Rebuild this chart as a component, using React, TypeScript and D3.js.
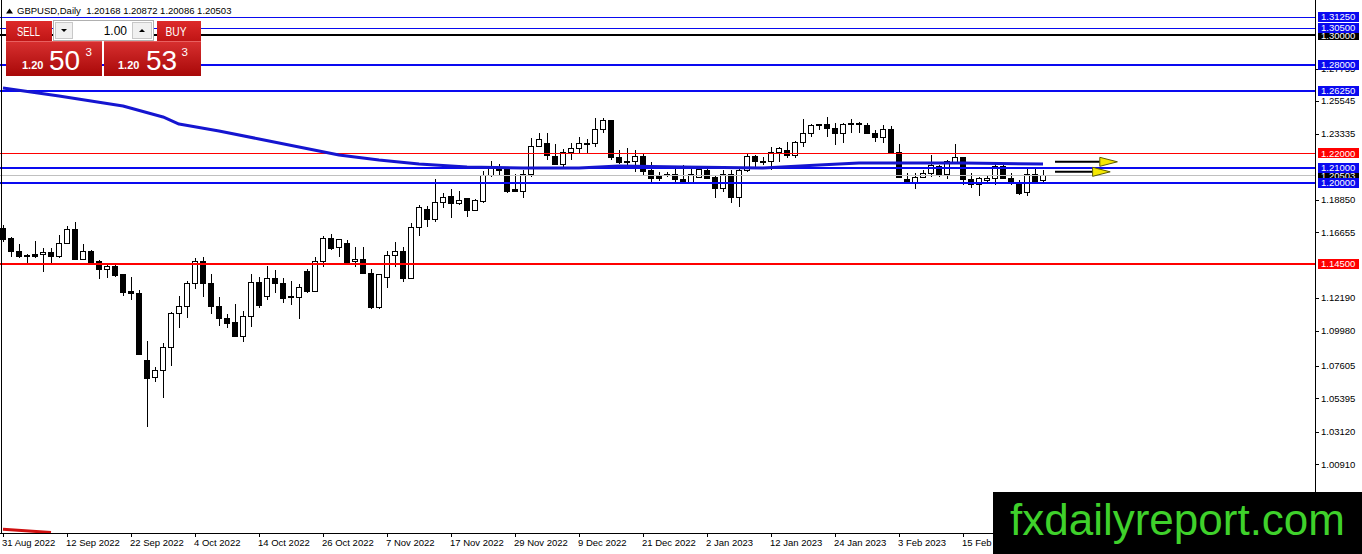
import React from "react";
import * as d3 from "d3";

// GBPUSD daily
const dateLabels = [
  "31 Aug 2022", "12 Sep 2022", "22 Sep 2022", "4 Oct 2022", "14 Oct 2022", "26 Oct 2022",
  "7 Nov 2022", "17 Nov 2022", "29 Nov 2022", "9 Dec 2022", "21 Dec 2022", "2 Jan 2023",
  "12 Jan 2023", "24 Jan 2023", "3 Feb 2023", "15 Feb 2023",
];
const barsPerLabel = 8;

const opens = [
  1.1694, 1.1620, 1.1538, 1.1511, 1.1518, 1.1518, 1.1531, 1.1498, 1.1592, 1.1681,
  1.1484, 1.1538, 1.1464, 1.1416, 1.1430, 1.1376, 1.1267, 1.1253, 1.0799, 1.0684,
  1.0725, 1.0881, 1.1118, 1.1159, 1.1321, 1.1464, 1.1321, 1.1159, 1.1084, 1.1057,
  1.0962, 1.1091, 1.1328, 1.1233, 1.1355, 1.1321, 1.1220, 1.1226, 1.1396, 1.1267,
  1.1470, 1.1626, 1.1559, 1.1592, 1.1464, 1.1484, 1.1389, 1.1152, 1.1362, 1.1511,
  1.1538, 1.1355, 1.1701, 1.1823, 1.1755, 1.1864, 1.1911, 1.1857, 1.1891, 1.1816,
  1.1877, 1.2047, 1.2094, 1.2101, 1.1952, 1.1945, 1.2054, 1.2250, 1.2270, 1.2182,
  1.2128, 1.2203, 1.2230, 1.2257, 1.2264, 1.2359, 1.2420, 1.2169, 1.2148, 1.2142,
  1.2176, 1.2081, 1.2047, 1.2047, 1.2060, 1.2026, 1.2006, 1.2040, 1.2087, 1.2040,
  1.1959, 1.2054, 1.1904, 1.2081, 1.2176, 1.2148, 1.2142, 1.2203, 1.2223, 1.2189,
  1.2277, 1.2332, 1.2386, 1.2399, 1.2372, 1.2332, 1.2406, 1.2406, 1.2386, 1.2338,
  1.2311, 1.2359, 1.2209, 1.2026, 1.2006, 1.2040, 1.2067, 1.2108, 1.2054, 1.2135,
  1.2169, 1.2026, 1.1986, 1.2013, 1.2033, 1.2108, 1.2033, 1.1999, 1.1938, 1.2060,
  1.20168,
];
const highs = [
  1.1715, 1.1633, 1.1586, 1.1518, 1.1606, 1.1559, 1.1559, 1.1647, 1.1708, 1.1735,
  1.1586, 1.1545, 1.1477, 1.1443, 1.1443, 1.1382, 1.1362, 1.1274, 1.0928, 1.0752,
  1.0915, 1.1125, 1.1233, 1.1335, 1.1491, 1.1498, 1.1382, 1.1226, 1.1111, 1.1179,
  1.1131, 1.1382, 1.1362, 1.1437, 1.1409, 1.1355, 1.1335, 1.1315, 1.1416, 1.1498,
  1.1640, 1.1653, 1.1620, 1.1613, 1.1565, 1.1565, 1.1416, 1.1382, 1.1538, 1.1599,
  1.1565, 1.1728, 1.1850, 1.1843, 1.2026, 1.1931, 1.1959, 1.1945, 1.1898, 1.1891,
  1.2081, 1.2148, 1.2128, 1.2108, 1.2060, 1.2087, 1.2304, 1.2338, 1.2338, 1.2264,
  1.2230, 1.2270, 1.2311, 1.2298, 1.2440, 1.2440, 1.2426, 1.2223, 1.2237, 1.2223,
  1.2203, 1.2142, 1.2074, 1.2074, 1.2094, 1.2121, 1.2094, 1.2108, 1.2108, 1.2054,
  1.2087, 1.2087, 1.2101, 1.2203, 1.2189, 1.2176, 1.2243, 1.2243, 1.2277, 1.2284,
  1.2433, 1.2399, 1.2399, 1.2447, 1.2406, 1.2406, 1.2433, 1.2413, 1.2406, 1.2359,
  1.2393, 1.2386, 1.2264, 1.2067, 1.2067, 1.2087, 1.2189, 1.2121, 1.2155, 1.2264,
  1.2176, 1.2067, 1.2040, 1.2054, 1.2142, 1.2121, 1.2067, 1.2020, 1.2108, 1.2094,
  1.20872,
];
const lows = [
  1.1599, 1.1498, 1.1491, 1.1443, 1.1491, 1.1396, 1.1457, 1.1491, 1.1586, 1.1477,
  1.1477, 1.1450, 1.1348, 1.1355, 1.1362, 1.1233, 1.1206, 1.0833, 1.0345, 1.0650,
  1.0542, 1.0759, 1.1016, 1.1084, 1.1281, 1.1226, 1.1111, 1.1030, 1.1016, 1.0955,
  1.0921, 1.1023, 1.1152, 1.1206, 1.1253, 1.1186, 1.1172, 1.1077, 1.1253, 1.1260,
  1.1430, 1.1545, 1.1498, 1.1450, 1.1430, 1.1382, 1.1145, 1.1145, 1.1287, 1.1430,
  1.1328, 1.1348, 1.1640, 1.1701, 1.1735, 1.1830, 1.1762, 1.1850, 1.1769, 1.1809,
  1.1864, 1.2040, 1.2054, 1.1931, 1.1938, 1.1898, 1.2040, 1.2243, 1.2155, 1.2121,
  1.2108, 1.2155, 1.2203, 1.2203, 1.2243, 1.2338, 1.2155, 1.2128, 1.2121, 1.2074,
  1.2054, 1.1992, 1.2013, 1.2040, 1.2006, 1.1999, 1.1999, 1.2033, 1.2026, 1.1898,
  1.1938, 1.1864, 1.1837, 1.2074, 1.2108, 1.2121, 1.2087, 1.2142, 1.2169, 1.2169,
  1.2243, 1.2311, 1.2359, 1.2311, 1.2257, 1.2270, 1.2338, 1.2338, 1.2332, 1.2277,
  1.2270, 1.2203, 1.2033, 1.1999, 1.1959, 1.2033, 1.2040, 1.2040, 1.2026, 1.2128,
  1.1986, 1.1965, 1.1911, 1.1999, 1.1986, 1.2026, 1.1986, 1.1918, 1.1911, 1.1999,
  1.20086,
];
const closes = [
  1.1613, 1.1538, 1.1498, 1.1498, 1.1498, 1.1531, 1.1498, 1.1586, 1.1681, 1.1484,
  1.1538, 1.1457, 1.1416, 1.1430, 1.1369, 1.1260, 1.1247, 1.0840, 1.0677, 1.0731,
  1.0887, 1.1118, 1.1165, 1.1321, 1.1464, 1.1321, 1.1159, 1.1084, 1.1050, 1.0962,
  1.1091, 1.1328, 1.1172, 1.1355, 1.1321, 1.1213, 1.1233, 1.1294, 1.1267, 1.1470,
  1.1626, 1.1552, 1.1613, 1.1457, 1.1484, 1.1389, 1.1152, 1.1376, 1.1511, 1.1538,
  1.1355, 1.1701, 1.1830, 1.1755, 1.1864, 1.1904, 1.1857, 1.1884, 1.1816, 1.1884,
  1.2047, 1.2101, 1.2081, 1.1945, 1.1945, 1.2054, 1.2250, 1.2291, 1.2189, 1.2128,
  1.2203, 1.2230, 1.2264, 1.2270, 1.2359, 1.2420, 1.2169, 1.2135, 1.2142, 1.2176,
  1.2074, 1.2033, 1.2033, 1.2060, 1.2020, 1.2006, 1.2054, 1.2094, 1.2033, 1.1959,
  1.2054, 1.1904, 1.2087, 1.2176, 1.2142, 1.2142, 1.2203, 1.2230, 1.2189, 1.2277,
  1.2338, 1.2386, 1.2393, 1.2372, 1.2332, 1.2399, 1.2399, 1.2393, 1.2338, 1.2311,
  1.2359, 1.2209, 1.2040, 1.2006, 1.2040, 1.2067, 1.2115, 1.2047, 1.2142, 1.2169,
  1.2026, 1.1992, 1.2033, 1.2033, 1.2108, 1.2033, 1.1999, 1.1931, 1.2060, 1.2006,
  1.20503,
];

// moving average, [bar index, price]
const maPoints: [number, number][] = [
  [0, 1.2643], [7, 1.2589], [15, 1.2521], [20, 1.2447], [22, 1.2399], [27, 1.2352],
  [32, 1.2298], [37, 1.2243], [42, 1.2189], [47, 1.2155], [52, 1.2128], [58, 1.2108],
  [65, 1.2101], [72, 1.2101], [77, 1.2115], [85, 1.2108], [95, 1.2101], [102, 1.2121],
  [107, 1.2135], [120, 1.2135], [130, 1.2128],
];
// second average, only its tail shows at the very bottom left
const lowMaPoints: [number, number][] = [[0, 0.9652], [6, 0.9630]];

const blueLevels = [1.3125, 1.305, 1.28, 1.2625, 1.21, 1.2];
const redLevels = [1.22, 1.145];
const blackLevels = [1.3];
const bidPrice = 1.20503;
const priceTicks = [
  1.27755, 1.25545, 1.23335, 1.1885, 1.16655, 1.1219, 1.0998, 1.07605, 1.05395, 1.0312, 1.0091,
];

// arrows drawn on the chart: start bar, shaft end bar, tip bar, price
const arrowStarts = [131.5, 131.5];
const arrowShaftEnds = [137.1, 136.2];
const arrowTips = [139.3, 138.4];
const arrowPrices = [1.2143, 1.2075];

const headerText = "GBPUSD,Daily  1.20168 1.20872 1.20086 1.20503";

const W = 1362;
const H = 554;
const plotRight = 1315;
const plotBottom = 533;
const BLUE = "#0a0af0";
const RED = "#ff0000";

const thinLevels = new Set([1.3125, 1.305, 1.22]);

function fmt(p: number) {
  return p.toFixed(5);
}

export default function App() {
  const x = d3.scaleLinear().domain([0, 164]).range([3, plotRight]);
  const y = d3.scaleLinear().domain([0.9613, 1.324]).range([535, 0]);

  const line = d3
    .line<[number, number]>()
    .x((d) => x(d[0]))
    .y((d) => y(d[1]));

  // pixel-snapped y for level lines
  const ly = (p: number, w: number) => (w === 1 ? Math.round(y(p)) + 0.5 : Math.round(y(p)));

  const candles = opens.map((o, i) => ({
    i,
    o,
    h: highs[i],
    l: lows[i],
    c: closes[i],
  }));

  const axisFont = "'Liberation Sans', Arial, sans-serif";

  // right axis boxes, drawn in this order so overlaps match
  const boxed: { p: number; bg: string }[] = [
    { p: 1.3, bg: "#000" },
    { p: 1.3125, bg: BLUE },
    { p: 1.305, bg: BLUE },
    { p: 1.28, bg: BLUE },
    { p: 1.2625, bg: BLUE },
    { p: 1.22, bg: "#f00" },
    { p: bidPrice, bg: "#000" },
    { p: 1.21, bg: BLUE },
    { p: 1.2, bg: BLUE },
    { p: 1.145, bg: "#f00" },
  ];

  return (
    <div style={{ position: "fixed", left: 0, top: 0, width: W, height: H, background: "#fff" }}>
      <svg width={W} height={H} style={{ display: "block" }} fontFamily={axisFont}>
        <defs>
          <clipPath id="plot">
            <rect x={0} y={0} width={plotRight} height={plotBottom} />
          </clipPath>
          <linearGradient id="bigRed" x1="0" y1="0" x2="0" y2="1">
            <stop offset="0" stopColor="#d83030" />
            <stop offset="1" stopColor="#a80808" />
          </linearGradient>
          <linearGradient id="btnRed" x1="0" y1="0" x2="0" y2="1">
            <stop offset="0" stopColor="#de2a2a" />
            <stop offset="1" stopColor="#c01515" />
          </linearGradient>
        </defs>

        <rect width={W} height={H} fill="#fff" />

        <g clipPath="url(#plot)">
          {/* candles */}
          <g shapeRendering="crispEdges">
            {candles.map((d) => {
              const cx = Math.round(x(d.i));
              const top = y(Math.max(d.o, d.c));
              const bot = y(Math.min(d.o, d.c));
              const bull = d.c > d.o;
              return (
                <g key={d.i}>
                  <line x1={cx} x2={cx} y1={y(d.h)} y2={y(d.l)} stroke="#000" strokeWidth={1} />
                  <rect
                    x={cx - 2.5}
                    y={top}
                    width={5}
                    height={Math.max(1, bot - top)}
                    fill={bull ? "#fff" : "#000"}
                    stroke="#000"
                    strokeWidth={1}
                  />
                </g>
              );
            })}
          </g>

          {/* horizontal levels */}
          <g>
            <line x1={0} x2={plotRight} y1={ly(bidPrice, 1)} y2={ly(bidPrice, 1)} stroke="#c0c0c0" strokeWidth={1} />
            {blueLevels.map((p) => {
              const w = thinLevels.has(p) ? 1 : 2;
              return <line key={"b" + p} x1={0} x2={plotRight} y1={ly(p, w)} y2={ly(p, w)} stroke={BLUE} strokeWidth={w} />;
            })}
            {blackLevels.map((p) => (
              <line key={"k" + p} x1={0} x2={plotRight} y1={ly(p, 2)} y2={ly(p, 2)} stroke="#000" strokeWidth={2} />
            ))}
            {redLevels.map((p) => {
              const w = thinLevels.has(p) ? 1 : 2;
              return <line key={"r" + p} x1={0} x2={plotRight} y1={ly(p, w)} y2={ly(p, w)} stroke={RED} strokeWidth={w} />;
            })}
          </g>

          {/* moving averages */}
          <path d={line(maPoints) ?? ""} fill="none" stroke="#1515d0" strokeWidth={3} strokeLinejoin="round" />
          <path d={line(lowMaPoints) ?? ""} fill="none" stroke="#d01010" strokeWidth={3} />

          {/* arrows */}
          {arrowPrices.map((p, k) => {
            const yy = y(p);
            const x0 = x(arrowStarts[k]);
            const x1 = x(arrowShaftEnds[k]);
            const x2 = x(arrowTips[k]);
            return (
              <g key={"a" + k}>
                <line x1={x0} x2={x1} y1={yy} y2={yy} stroke="#000" strokeWidth={2} />
                <path
                  d={`M${x1},${yy - 4.5}L${x2},${yy}L${x1},${yy + 4.5}Z`}
                  fill="#f5e800"
                  stroke="#5a5a00"
                  strokeWidth={1}
                />
              </g>
            );
          })}
        </g>

        {/* frame */}
        <g shapeRendering="crispEdges" stroke="#000" strokeWidth={1}>
          <line x1={1.5} x2={1.5} y1={0} y2={plotBottom} />
          <line x1={0} x2={plotRight + 1} y1={plotBottom + 0.5} y2={plotBottom + 0.5} />
          <line x1={plotRight + 0.5} x2={plotRight + 0.5} y1={0} y2={plotBottom} />
        </g>

        {/* bottom axis */}
        <g>
          {dateLabels.map((t, k) => {
            const tx = Math.round(x(k * barsPerLabel));
            return (
              <g key={t}>
                <line x1={tx + 0.5} x2={tx + 0.5} y1={plotBottom} y2={plotBottom + 4} stroke="#000" shapeRendering="crispEdges" />
                <text x={tx - 1} y={546} fontSize={9.5} fill="#000">
                  {t}
                </text>
              </g>
            );
          })}
        </g>

        {/* right axis */}
        <g>
          {priceTicks.map((p) => (
            <g key={"t" + p}>
              <line x1={plotRight} x2={plotRight + 4} y1={Math.round(y(p)) + 0.5} y2={Math.round(y(p)) + 0.5} stroke="#000" shapeRendering="crispEdges" />
              <text x={1321} y={y(p)} dy="0.35em" fontSize={9.5} fill="#000">
                {fmt(p)}
              </text>
            </g>
          ))}
          {boxed.map((b) => (
            <g key={"box" + b.p}>
              <rect x={1318} y={y(b.p) - 5} width={41} height={10} fill={b.bg} shapeRendering="crispEdges" />
              <text x={1321} y={y(b.p)} dy="0.35em" fontSize={9.5} fill="#fff">
                {fmt(b.p)}
              </text>
            </g>
          ))}
        </g>

        {/* header */}
        <path d="M6,13.5L9.5,8.5L13,13.5Z" fill="#000" />
        <text x={17} y={14} fontSize={9.5} fill="#000" style={{ whiteSpace: "pre" }}>
          {headerText}
        </text>

        {/* one click trading panel */}
        <g>
          <rect x={6} y={21} width={46} height={20} fill="url(#btnRed)" />
          <text x={28.5} y={35.5} fontSize={12.5} fill="#fff" textAnchor="middle" textLength={23} lengthAdjust="spacingAndGlyphs">
            SELL
          </text>
          <rect x={53.5} y={20.5} width={100} height={20} fill="#fff" stroke="#b0b0b0" />
          <rect x={55.5} y={22.5} width={17} height={16} fill="#f0f0f0" stroke="#c8c8c8" />
          <path d="M61,29L67,29L64,32Z" fill="#000" />
          <text x={127} y={35} fontSize={12} fill="#000" textAnchor="end">
            1.00
          </text>
          <rect x={132.5} y={22.5} width={19} height={16} fill="#f0f0f0" stroke="#c8c8c8" />
          <path d="M139,32L145,32L142,29Z" fill="#000" />
          <rect x={157} y={21} width={44} height={20} fill="url(#btnRed)" />
          <text x={176} y={35.5} fontSize={12.5} fill="#fff" textAnchor="middle" textLength={21} lengthAdjust="spacingAndGlyphs">
            BUY
          </text>

          <rect x={6} y={41} width={96} height={35} fill="url(#bigRed)" />
          <line x1={6} x2={102} y1={41.5} y2={41.5} stroke="#e86060" />
          <text x={22} y={69} fontSize={11} fontWeight="bold" fill="#fff">1.20</text>
          <text x={49} y={69.5} fontSize={28} fill="#fff">50</text>
          <text x={85.5} y={56} fontSize={11.5} fill="#fff">3</text>

          <rect x={104} y={41} width={97} height={35} fill="url(#bigRed)" />
          <line x1={104} x2={201} y1={41.5} y2={41.5} stroke="#e86060" />
          <text x={118} y={69} fontSize={11} fontWeight="bold" fill="#fff">1.20</text>
          <text x={146} y={69.5} fontSize={28} fill="#fff">53</text>
          <text x={181.5} y={56} fontSize={11.5} fill="#fff">3</text>
        </g>

        {/* watermark */}
        <rect x={993} y={492} width={W - 993} height={H - 492} fill="#000" />
        <text x={1010} y={535} fontSize={44} fill="#3fd12b" textLength={335} lengthAdjust="spacingAndGlyphs">
          fxdailyreport.com
        </text>
      </svg>
    </div>
  );
}
